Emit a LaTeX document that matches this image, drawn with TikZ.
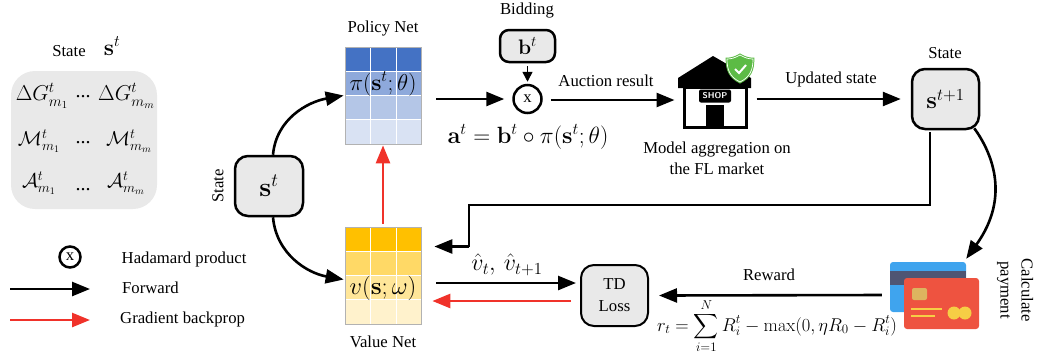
\documentclass[tikz,border=0pt]{standalone}
\usepackage{fix-cm}
\usepackage{amsmath}
\usepackage[no-math]{fontspec}
\setmainfont{Liberation Serif}
\usetikzlibrary{arrows.meta}
\newcommand{\txtsize}{\fontsize{16.7}{21}\selectfont}
\newcommand{\matsize}{\fontsize{20}{24}\selectfont}
\newcommand{\netsize}{\fontsize{23}{28}\selectfont}
\definecolor{boxgray}{HTML}{E9E9E9}
\definecolor{backred}{HTML}{F0322A}
\definecolor{blueA}{HTML}{4472C4}
\definecolor{blueB}{HTML}{8EA9DB}
\definecolor{blueC}{HTML}{B4C6E7}
\definecolor{blueD}{HTML}{D9E2F3}
\definecolor{goldA}{HTML}{FFC000}
\definecolor{goldB}{HTML}{FFD966}
\definecolor{goldC}{HTML}{FFE699}
\definecolor{goldD}{HTML}{FFF2CC}
\definecolor{shieldgreen}{HTML}{5CBB45}
\definecolor{cardblue}{HTML}{3FA4EE}
\definecolor{cardband}{HTML}{4F5573}
\definecolor{cardred}{HTML}{EE5340}
\definecolor{cardchip}{HTML}{DDB45F}
\definecolor{cardgold}{HTML}{F6CE45}
\tikzset{
    lbl/.style = {font=\txtsize, inner sep=0pt},
    mat/.style = {font=\matsize, inner sep=0pt},
    netlbl/.style = {font=\netsize, inner sep=0pt},
    statebox/.style = {draw, line width=2.5pt, fill=boxgray, rounded corners=13pt, inner sep=0pt},
    netbox/.style = {draw=black!30, line width=0.7pt, minimum width=76pt, minimum height=97pt, inner sep=0pt},
    hada/.style = {draw, circle, line width=2.5pt, fill=white, inner sep=0pt, font=\txtsize},
    fwd/.style = {line width=2.6pt, -{Triangle[length=18pt,width=14pt]}},
    back/.style = {line width=2.6pt, backred, -{Triangle[length=18pt,width=14pt]}}
}
\begin{document}
\begin{tikzpicture}[x=1pt, y=-1pt]
    \useasboundingbox (0,0) rectangle (1038,360);
    % left panel
    \node[fill=boxgray, rounded corners=24pt, minimum width=146pt, minimum height=138pt] (panel) at (84,140) {};
    \node[lbl] (paneltitle) at (69,51) {State};
    \node[mat, font=\fontsize{23}{28}\selectfont] (panelstate) at (112,46) {$\mathbf{s}^t$};
    \node[mat, font=\fontsize{21.5}{24}\selectfont] (g1) at (42,96) {$\Delta G_{m_1}^t$};
    \node[mat] (gdots) at (83,97) {...};
    \node[mat, font=\fontsize{21.5}{24}\selectfont] (gm) at (126.5,96) {$\Delta G_{m_m}^t$};
    \node[mat] (m1) at (39,141) {$\mathcal{M}_{m_1}^t$};
    \node[mat] (mdots) at (83,143) {...};
    \node[mat] (mm) at (129,141) {$\mathcal{M}_{m_m}^t$};
    \node[mat] (a1) at (39,183) {$\mathcal{A}_{m_1}^t$};
    \node[mat] (adots) at (83,190) {...};
    \node[mat] (am) at (126,183) {$\mathcal{A}_{m_m}^t$};
    % legend
    \node[hada, minimum size=21pt] (legendx) at (70,257) {x};
    \node[lbl, anchor=west] (legendh) at (121.5,259) {Hadamard product};
    \coordinate (fwdA) at (10,289);
    \coordinate (fwdB) at (90,289);
    \node[lbl, anchor=west] (legendf) at (122,288) {Forward};
    \coordinate (backA) at (10,320);
    \coordinate (backB) at (90,320);
    \node[lbl, anchor=west] (legendb) at (120,319) {Gradient backprop};
    \draw[fwd] (fwdA) -- (fwdB);
    \draw[back] (backA) -- (backB);
    % state
    \node[statebox, minimum width=68pt, minimum height=60pt, font=\fontsize{27}{30}\selectfont] (st) at (269,186) {$\mathbf{s}^t$};
    \node[lbl, rotate=90] (stlabel) at (218,186) {State};
    % nets
    \foreach \i/\col in {0/blueA,1/blueB,2/blueC,3/blueD}
        \foreach \j in {0,1,2}
            \draw[white, line width=1pt, fill=\col] ({345+\j*25.5},{47+\i*24.25}) rectangle +(25.5,24.25);
    \foreach \i/\col in {0/goldA,1/goldB,2/goldC,3/goldD}
        \foreach \j in {0,1,2}
            \draw[white, line width=1pt, fill=\col] ({345+\j*25.5},{227+\i*24.25}) rectangle +(25.5,24.25);
    \node[netbox] (policy) at (383,95.5) {};
    \node[netbox] (value) at (383,275.5) {};
    \node[lbl] (policylabel) at (383,29) {Policy Net};
    \node[lbl] (valuelabel) at (383,342) {Value Net};
    \node[netlbl] (policytxt) at (383,84) {$\pi(\mathbf{s}^t;\theta)$};
    \node[netlbl, font=\fontsize{24.5}{28}\selectfont] (valuetxt) at (383,288) {$v(\mathbf{s};\omega)$};
    \draw[fwd] ([xshift=4pt]st.north) to[out=85, in=190] ([xshift=-1pt]policy.west);
    \draw[fwd] ([xshift=4pt]st.south) to[out=-85, in=170] ([xshift=-1pt,yshift=-4pt]value.west);
    \draw[back] ([yshift=3pt]value.north) -- ([yshift=-1pt]policy.south);
    % auction
    \node[hada, minimum size=28pt] (prod) at (527.5,99) {x};
    \node[statebox, minimum width=55pt, minimum height=32pt, rounded corners=9pt, font=\fontsize{21}{24}\selectfont] (bt) at (527.5,46) {$\mathbf{b}^t$};
    \node[lbl] (btlabel) at (527,11) {Bidding};
    \node[inner sep=0pt, font=\fontsize{23.5}{26}\selectfont] (at) at (528,137) {$\mathbf{a}^t=\mathbf{b}^t\circ\pi(\mathbf{s}^t;\theta)$};
    \coordinate (polout) at (436,99);
    \draw[fwd] (polout) -- ([xshift=-8pt]prod.west);
    \draw[line width=1.5pt, -{Triangle[length=10pt,width=10pt]}] ([yshift=-3pt]bt.south) -- ([yshift=2pt]prod.north);
    % shop
    \node[draw, line width=3pt, fill=white, minimum width=62pt, minimum height=40pt, inner sep=0pt] (shop) at (715,107) {};
    \fill (678,78) -- (713,56) -- (751,78) -- (751,88) -- (678,88) -- cycle;
    \fill (706,105) rectangle (724,126);
    \node[fill=black, text=white, rounded corners=2pt, minimum width=32pt, minimum height=13pt, inner sep=0pt, font=\sffamily\bfseries\fontsize{8.5}{9}\selectfont] (shopsign) at (715,96) {SHOP};
    \draw[shieldgreen, fill=shieldgreen, line width=1pt, double=white, double distance=0.7pt] (740,55) .. controls (745,58) and (749,59) .. (753,59) .. controls (753,70) and (750,77) .. (740,82) .. controls (730,77) and (727,70) .. (727,59) .. controls (731,59) and (735,58) .. (740,55) -- cycle;
    \draw[white, line width=2pt] (735,69) -- (739,73) -- (746,65);
    \node[lbl, align=center] (shoplabel) at (717,158) {Model aggregation on\\the FL market};
    \node[lbl] (auctionlabel) at (606,81) {Auction result};
    \node[lbl] (updatedlabel) at (831,79) {Updated state};
    \node[statebox, minimum width=67pt, minimum height=60pt, font=\fontsize{24}{30}\selectfont] (stnext) at (945.5,99) {$\mathbf{s}^{t+1}$};
    \node[lbl] (stnextlabel) at (945,53) {State};
    \draw[fwd] ([xshift=8pt,yshift=-1pt]prod.east) -- ([xshift=-8pt,yshift=7pt]shop.west);
    \draw[fwd] ([xshift=9pt,yshift=8pt]shop.east) -- ([xshift=-10pt]stnext.west);
    % payment
    \node[fill=cardblue, rounded corners=3pt, minimum width=76pt, minimum height=50pt, inner sep=0pt] (cardback) at (928,287) {};
    \fill[cardband] (890,271) rectangle (966,285);
    \node[fill=cardred, rounded corners=3pt, minimum width=75pt, minimum height=51pt, inner sep=0pt] (cardfront) at (941.5,303.5) {};
    \fill[cardchip, rounded corners=2pt] (912,288) rectangle (927,300);
    \draw[cardgold, line width=2.2pt] (911,309) -- (942,309) (911,316) -- (935,316);
    \fill[cardgold] (954,313) circle (6.5) (965,313) circle (6.5);
    \node[lbl, rotate=-90, align=center] (paylabel) at (1015,290) {Calculate\\payment};
    \draw[fwd] ([xshift=-6pt,yshift=2pt]stnext.south east) .. controls (990,150) and (1012,195) .. ([yshift=3pt]cardback.north east);
    % td loss
    \node[statebox, line width=2pt, minimum width=67pt, minimum height=61pt, align=center, font=\txtsize] (td) at (614.5,295.5) {TD\\[1pt]Loss};
    \node[lbl] (rewardlabel) at (769,275) {Reward};
    \node[inner sep=0pt, font=\fontsize{18.5}{20}\selectfont] (rt) at (777,326) {$\displaystyle r_t=\sum_{i=1}^{N}R_i^t-\max(0,\eta R_0-R_i^t)$};
    \draw[fwd] ([xshift=-8pt,yshift=-8pt]cardback.west) -- ([xshift=10pt,yshift=0pt]td.east);
    \draw[fwd] ([shift={(15,7.5)}]value.east) -- ([shift={(-4,-12.5)}]td.west);
    \draw[back] ([shift={(-9,5.5)}]td.west) -- ([shift={(11,25.5)}]value.east);
    \node[mat, font=\fontsize{24}{26}\selectfont] (vhat) at (507,265) {$\hat{v}_t,\,\hat{v}_{t+1}$};
    \coordinate (feedA) at (930,132);
    \coordinate (feedB) at (930,205);
    \coordinate (feedC) at (469,205);
    \coordinate (feedD) at (469,246.5);
    \draw[line width=2.6pt] (feedA) -- (feedB) -- (feedC) -- (feedD);
    \draw[fwd] (feedD) -- ([shift={(13,-29)}]value.east);
\end{tikzpicture}
\end{document}
